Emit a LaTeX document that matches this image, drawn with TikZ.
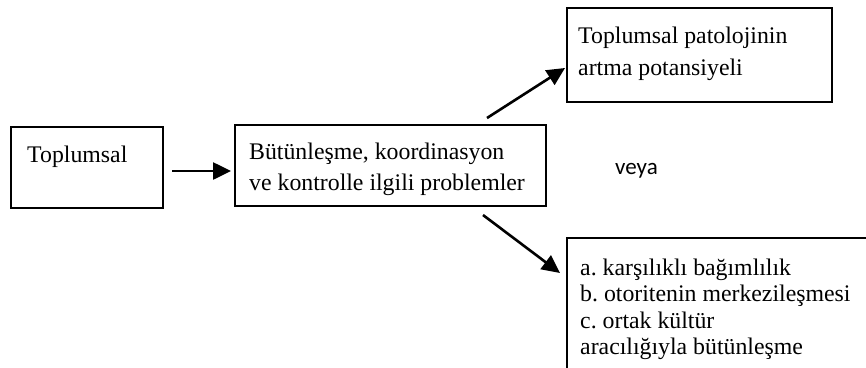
\documentclass[tikz,border=0pt]{standalone}
\usepackage{fontspec}
\setmainfont{Liberation Serif}
\newfontfamily\veyafont{Carlito}
\usetikzlibrary{arrows.meta}
\frenchspacing
\begin{document}
\begin{tikzpicture}[x=1pt,y=-1pt,
  box/.style={draw,line width=1.3pt,rectangle,inner sep=0pt},
  txt/.style={anchor=base west,inner sep=0pt,font=\fontsize{23.8}{31}\selectfont},
  arr/.style={line width=2.6pt,-{Triangle[length=18pt,width=17pt]}}]
\useasboundingbox (0,0) rectangle (866,367);
% boxes
\node[box,minimum width=152pt,minimum height=81pt] (b1) at (87,167.5) {};
\node[box,minimum width=311pt,minimum height=81pt] (b2) at (390.5,165.5) {};
\node[box,minimum width=265pt,minimum height=94pt] (b3) at (699.5,55) {};
\coordinate (b4bl) at (567,370);
\coordinate (b4tl) at (567,238);
\coordinate (b4tr) at (870,238);
\draw[line width=1.3pt] (b4bl) -- (b4tl) -- (b4tr);
% texts
\node[txt] (t1) at (27,162) {Toplumsal};
\node[txt] (t2a) at (249,159) {Bütünleşme, koordinasyon};
\node[txt] (t2b) at (249,190) {ve kontrolle ilgili problemler};
\node[txt] (t3a) at (578,43) {Toplumsal patolojinin};
\node[txt] (t3b) at (578,75) {artma potansiyeli};
\node[txt] (t4a) at (580,275) {a. karşılıklı bağımlılık};
\node[txt] (t4b) at (580,301.5) {b. otoritenin merkezileşmesi};
\node[txt] (t4c) at (580,328) {c. ortak kültür};
\node[txt] (t4d) at (580,354) {aracılığıyla bütünleşme};
\node[anchor=base west,inner sep=0pt,font=\veyafont\fontsize{23}{28}\selectfont] (veya) at (615,174) {veya};
% arrows
\coordinate (a1s) at (172,171);
\coordinate (a1e) at (231,171);
\coordinate (a2s) at (487,118);
\coordinate (a2e) at (565,68);
\coordinate (a3s) at (483,215);
\coordinate (a3e) at (560,273);
\draw[arr] (a1s) -- (a1e);
\draw[arr] (a2s) -- (a2e);
\draw[arr] (a3s) -- (a3e);
\end{tikzpicture}
\end{document}
